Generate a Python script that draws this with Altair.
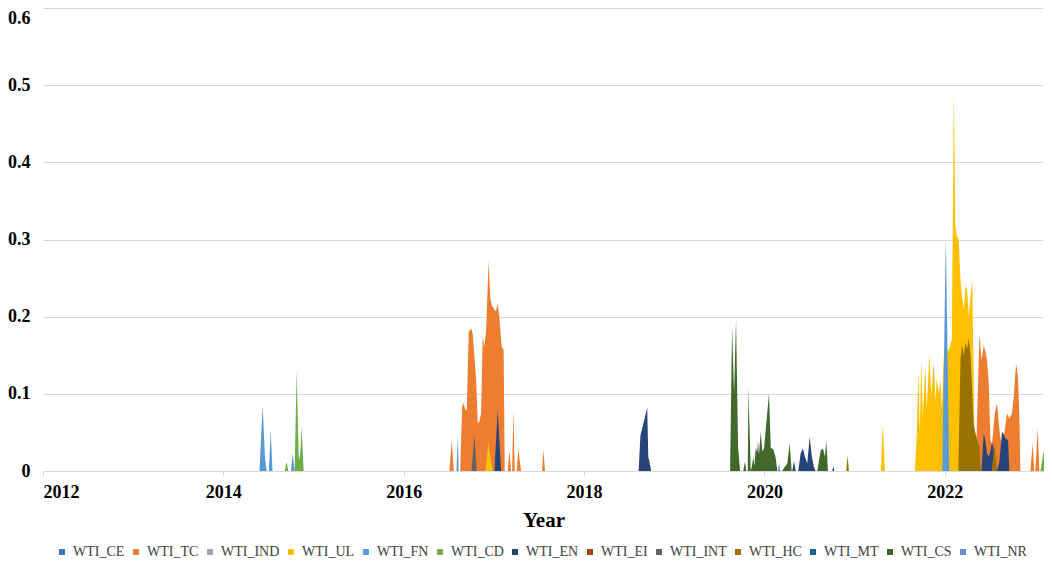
import altair as alt
import pandas as pd

SERIES = ["WTI_CE", "WTI_TC", "WTI_IND", "WTI_UL", "WTI_FN", "WTI_CD", "WTI_EN",
          "WTI_EI", "WTI_INT", "WTI_HC", "WTI_MT", "WTI_CS", "WTI_NR"]
COLORS = ["#4472C4", "#ED7D31", "#A5A5A5", "#FFC000", "#5B9BD5", "#70AD47", "#264478",
          "#9E480E", "#636363", "#997300", "#255E91", "#43682B", "#698ED0"]

Y_TICKS = [0, 0.1, 0.2, 0.3, 0.4, 0.5, 0.6]
X_TICKS = [2012, 2014, 2016, 2018, 2020, 2022]

X_TC = [2016.507, 2016.533, 2016.555, 2016.626, 2016.648, 2016.662, 2016.684, 2016.699,
        2016.721, 2016.747, 2016.765, 2016.784, 2016.803, 2016.821, 2016.839, 2016.858,
        2016.876, 2016.895, 2016.914, 2016.942, 2016.958, 2016.976, 2017.006, 2017.024,
        2017.042, 2017.061, 2017.086, 2017.108, 2017.120, 2017.153, 2017.172, 2017.191,
        2017.202, 2017.216, 2017.231, 2017.253, 2017.271, 2017.301, 2017.534, 2017.548,
        2017.567,
        2022.330, 2022.354, 2022.384, 2022.406, 2022.432, 2022.450, 2022.468, 2022.487,
        2022.506, 2022.524, 2022.554, 2022.579, 2022.606, 2022.635, 2022.665, 2022.690,
        2022.716, 2022.745, 2022.764, 2022.790, 2022.812, 2022.827, 2022.838, 2022.949,
        2022.974, 2022.993, 2023.004, 2023.030, 2023.049]
Y_TC = [0, 0.040, 0, 0, 0.083, 0.088, 0.079, 0.079,
        0.180, 0.185, 0.178, 0.148, 0.118, 0.062, 0.064, 0.075,
        0.174, 0.161, 0.183, 0.273, 0.226, 0.215, 0.209, 0.207,
        0.217, 0.198, 0.161, 0.157, 0, 0, 0.027, 0,
        0, 0.079, 0, 0, 0.028, 0, 0, 0.028,
        0,
        0, 0.050, 0.178, 0.144, 0.163, 0.155, 0.144, 0.114,
        0.040, 0.035, 0.075, 0.088, 0.053, 0.030, 0.053, 0.075,
        0.068, 0.075, 0.096, 0.139, 0.122, 0.070, 0, 0,
        0.036, 0, 0, 0.055, 0]

X_UL = [2016.906, 2016.939, 2016.960, 2016.987,
        2021.291, 2021.313, 2021.336,
        2021.668, 2021.690, 2021.707, 2021.723, 2021.740, 2021.756, 2021.784, 2021.801,
        2021.828, 2021.850, 2021.878, 2021.895, 2021.911, 2021.934, 2021.950, 2021.967,
        2021.989, 2022.006, 2022.033, 2022.055, 2022.078, 2022.100, 2022.116, 2022.133,
        2022.155, 2022.172, 2022.188, 2022.210, 2022.227, 2022.244, 2022.266, 2022.288,
        2022.305, 2022.327, 2022.343, 2022.365, 2022.388]
Y_UL = [0, 0.038, 0.020, 0,
        0, 0.062, 0,
        0, 0.050, 0.130, 0.050, 0.145, 0.070, 0.135, 0.080,
        0.150, 0.100, 0.140, 0.090, 0.120, 0.100, 0.120, 0.080,
        0.150, 0.160, 0.155, 0.160, 0.170, 0.490, 0.320, 0.305,
        0.300, 0.250, 0.230, 0.210, 0.235, 0.240, 0.200, 0.230,
        0.247, 0.060, 0.040, 0.020, 0]

X_FN = [2014.400, 2014.436, 2014.460, 2014.480, 2014.505, 2014.525, 2014.545,
        2014.750, 2014.770, 2014.790, 2014.840, 2014.857, 2014.875,
        2016.585, 2016.599, 2016.610,
        2020.150, 2020.162, 2020.175,
        2021.972, 2022.011, 2022.050]
Y_FN = [0, 0.085, 0.020, 0, 0, 0.053, 0,
        0, 0.023, 0, 0, 0.030, 0,
        0, 0.047, 0,
        0, 0.010, 0,
        0, 0.303, 0]

X_CD = [2014.680, 2014.700, 2014.720, 2014.790, 2014.813, 2014.835, 2014.850, 2014.868,
        2014.890, 2023.060, 2023.096, 2023.133, 2023.152]
Y_CD = [0, 0.012, 0, 0, 0.130, 0.020, 0.015, 0.057,
        0, 0, 0.025, 0.005, 0]

X_EN = [2017.006, 2017.042, 2017.080,
        2018.605, 2018.625, 2018.700, 2018.712, 2018.722, 2018.744,
        2020.309, 2020.328, 2020.346, 2020.375, 2020.402, 2020.427, 2020.450, 2020.475,
        2020.502, 2020.524, 2020.549, 2020.568, 2020.752, 2020.763, 2020.774,
        2022.406, 2022.432, 2022.450, 2022.468, 2022.487, 2022.506, 2022.524, 2022.554,
        2022.579, 2022.606, 2022.635, 2022.653, 2022.672, 2022.701, 2022.716]
Y_EN = [0, 0.079, 0,
        0, 0.046, 0.082, 0.018, 0.014, 0,
        0, 0.013, 0, 0, 0.023, 0.029, 0.018, 0.010,
        0.044, 0.020, 0.005, 0, 0, 0.006, 0,
        0, 0.049, 0.039, 0.023, 0.018, 0.026, 0.038, 0.020,
        0, 0.012, 0.051, 0.048, 0.042, 0.040, 0]

X_INT = [2016.751, 2016.784, 2016.810, 2019.904, 2019.929, 2019.950]
Y_INT = [0, 0.046, 0, 0, 0.040, 0]

X_HC = [2020.907, 2020.922, 2020.937,
        2022.150, 2022.174, 2022.192, 2022.211, 2022.229, 2022.247, 2022.266, 2022.285,
        2022.303, 2022.321, 2022.340, 2022.358, 2022.384, 2022.399,
        2022.520, 2022.550, 2022.580]
Y_HC = [0, 0.020, 0,
        0, 0.146, 0.163, 0.150, 0.167, 0.158, 0.172, 0.150,
        0.105, 0.060, 0.049, 0.040, 0.031, 0,
        0, 0.035, 0]

X_CS = [2019.619, 2019.641, 2019.663, 2019.685, 2019.708, 2019.730, 2019.766, 2019.782,
        2019.800, 2019.815, 2019.822, 2019.848, 2019.859, 2019.877, 2019.888, 2019.904,
        2019.915, 2019.940, 2019.959, 2019.977, 2019.996, 2020.014, 2020.051, 2020.070,
        2020.099, 2020.125, 2020.143, 2020.198, 2020.217, 2020.254, 2020.280, 2020.302,
        2020.586, 2020.624, 2020.649, 2020.671, 2020.686, 2020.704]
Y_CS = [0, 0.187, 0.100, 0.196, 0.030, 0, 0, 0.012,
        0, 0, 0.109, 0, 0.005, 0.018, 0.006, 0.030,
        0.026, 0.022, 0.051, 0.025, 0.030, 0.053, 0.101, 0.030,
        0.028, 0.017, 0, 0, 0.004, 0.010, 0.036, 0,
        0, 0.027, 0.029, 0.018, 0.040, 0]

DATA = {
    "WTI_TC": (X_TC, Y_TC),
    "WTI_UL": (X_UL, Y_UL),
    "WTI_FN": (X_FN, Y_FN),
    "WTI_CD": (X_CD, Y_CD),
    "WTI_EN": (X_EN, Y_EN),
    "WTI_INT": (X_INT, Y_INT),
    "WTI_HC": (X_HC, Y_HC),
    "WTI_CS": (X_CS, Y_CS),
}

FONT = "Liberation Serif"

color_scale = alt.Scale(domain=SERIES, range=COLORS)
legend = alt.Legend(
    title=None, orient="none", legendX=12, legendY=537, direction="horizontal",
    columns=13, columnPadding=4, symbolType="square",
    symbolSize=36, symbolStrokeWidth=0, labelOffset=4, labelFont=FONT,
    labelFontSize=14, labelColor="#404040", padding=0,
)

x_axis = alt.Axis(
    values=X_TICKS, format="d", title="Year", grid=False,
    labelFont=FONT, labelFontSize=18, labelFontWeight="bold", labelColor="black",
    tickSize=5, tickColor="#d9d9d9", domainColor="#d9d9d9", labelPadding=7,
    titleFont=FONT, titleFontSize=21, titleFontWeight="bold", titleColor="black",
    titlePadding=8,
)
y_axis = alt.Axis(
    values=Y_TICKS, format="~g", title=None, domain=False, ticks=False,
    gridColor="#d9d9d9", labelFont=FONT, labelFontSize=18, labelFontWeight="bold",
    labelColor="black", labelPadding=13,
    labelOffset=alt.condition("datum.value == 0.6", alt.value(10), alt.value(0)),
)

layers = []
for s in SERIES:
    if s not in DATA:
        continue
    xs, ys = DATA[s]
    df = pd.DataFrame({"x": xs, "y": ys, "series": s})
    layers.append(
        alt.Chart(df)
        .mark_area(opacity=1, interpolate="linear")
        .encode(
            x=alt.X("x:Q", scale=alt.Scale(domain=[2012, 2023.1], nice=False, zero=False),
                    axis=x_axis),
            y=alt.Y("y:Q", scale=alt.Scale(domain=[0, 0.6], nice=False),
                    axis=y_axis, stack=None),
            color=alt.Color("series:N", scale=color_scale, legend=legend),
        )
    )

chart = (
    alt.layer(*layers)
    .properties(
        width=1001, height=463,
        autosize=alt.AutoSizeParams(type="none"),
        padding={"left": 35, "top": 0, "right": 0, "bottom": 90},
    )
    .configure_view(stroke=None)
)

chart.save("out.html", embed_options={"renderer": "svg", "actions": False})
